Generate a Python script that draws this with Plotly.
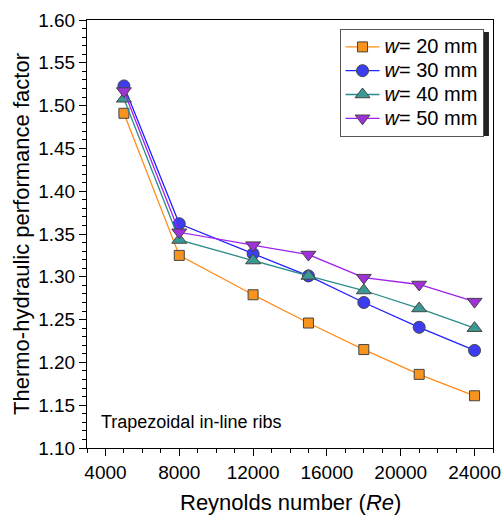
import plotly.graph_objects as go

re_vals = [5000, 8000, 12000, 15000, 18000, 21000, 24000]
w20 = [1.491, 1.325, 1.279, 1.246, 1.215, 1.186, 1.161]
w30 = [1.523, 1.362, 1.327, 1.301, 1.270, 1.241, 1.214]
w40 = [1.508, 1.343, 1.319, 1.301, 1.284, 1.263, 1.240]
w50 = [1.517, 1.352, 1.337, 1.326, 1.299, 1.291, 1.271]
x_ticks = [4000, 8000, 12000, 16000, 20000, 24000]
x_tick_labels = ["4000", "8000", "12000", "16000", "20000", "24000"]

series = [
    ("<i>w</i>= 20 mm", w20, "#FF8C1A", "#F7941D", "square", 10),
    ("<i>w</i>= 30 mm", w30, "#2222FF", "#3C3CF0", "circle", 12),
    ("<i>w</i>= 40 mm", w40, "#2A8C88", "#3A9994", "triangle-up", 13),
    ("<i>w</i>= 50 mm", w50, "#A020F0", "#A030D8", "triangle-down", 13),
]

fig = go.Figure()
for name, ys, lc, fc, sym, sz in series:
    fig.add_trace(go.Scatter(
        x=re_vals, y=ys, name='<span style="font-size:20px">' + name + '</span>',
        mode="lines+markers",
        line=dict(color=lc, width=1.3),
        marker=dict(symbol=sym, size=sz, color=fc,
                    line=dict(color="#444444", width=1)),
    ))

font_family = "Liberation Sans, Arial, sans-serif"

# legend drop shadow
fig.add_shape(type="rect", xref="paper", yref="paper",
              x0=0.630, x1=0.990, y0=0.729, y1=0.972,
              line=dict(width=0), fillcolor="#222222", layer="below")

fig.update_layout(
    width=504, height=516,
    margin=dict(l=87, r=11, t=20, b=68),
    paper_bgcolor="white", plot_bgcolor="white",
    font=dict(family=font_family, size=19, color="black"),
    showlegend=True,
    legend=dict(x=0.622, y=0.979, xanchor="left", yanchor="top",
                bgcolor="white", bordercolor="#555555", borderwidth=1,
                font=dict(size=16), itemwidth=34, tracegroupgap=0),
    xaxis=dict(
        range=[3000, 25000], tickmode="array",
        tickvals=x_ticks, ticktext=x_tick_labels, automargin=False,
        ticks="outside", ticklen=7, tickcolor="black", tickwidth=1,
        showline=True, linecolor="black", linewidth=1, mirror=True,
        showgrid=False, zeroline=False,
        minor=dict(tickvals=[3000, 5000, 6000, 7000, 9000, 10000, 11000, 13000,
                             14000, 15000, 17000, 18000, 19000, 21000, 22000,
                             23000, 25000],
                   ticks="outside", ticklen=4, tickcolor="black"),
        tickfont=dict(size=19),
    ),
    yaxis=dict(
        range=[1.10, 1.60], tickmode="linear", tick0=1.10, dtick=0.05,
        tickformat=".2f", automargin=False,
        ticks="outside", ticklen=7, tickcolor="black", tickwidth=1,
        showline=True, linecolor="black", linewidth=1, mirror=True,
        showgrid=False, zeroline=False,
        minor=dict(dtick=0.01, ticks="outside", ticklen=4, tickcolor="black"),
        title=dict(text="Thermo-hydraulic performance factor", font=dict(size=22), standoff=2),
        tickfont=dict(size=19),
    ),
    annotations=[
        dict(x=0.03, y=0.06, xref="paper", yref="paper", xanchor="left", yanchor="middle",
             text="Trapezoidal in-line ribs", showarrow=False, font=dict(size=18)),
        dict(x=0.5, y=-0.127, xref="paper", yref="paper", xanchor="center", yanchor="middle",
             text="Reynolds number (<i>Re</i>)", showarrow=False, font=dict(size=22)),
    ],
)

fig.write_html("out.html")
